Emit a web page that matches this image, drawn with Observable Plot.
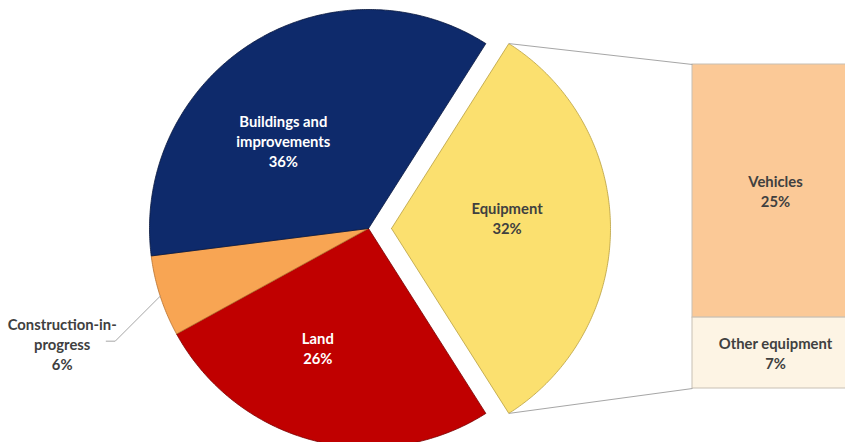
<!DOCTYPE html>
<html><head><meta charset="utf-8">
<script src="https://cdn.jsdelivr.net/npm/d3@7"></script>
<script src="https://cdn.jsdelivr.net/npm/@observablehq/plot@0.6"></script>
<style>html,body{margin:0;padding:0;background:#fff;overflow:hidden}</style>
</head><body><div id="chart"></div>
<script>
// ---- data ----
const categories = ["Equipment", "Land", "Construction-in-progress", "Buildings and improvements"];
const shares = [32, 26, 6, 36];
const labelText = ["Equipment\n32%", "Land\n26%", "Construction-in-\nprogress\n6%", "Buildings and\nimprovements\n36%"];
const barCategories = ["Vehicles", "Other equipment"];
const barShares = [25, 7];
const barLabelText = ["Vehicles\n25%", "Other equipment\n7%"];

// ---- styles ----
const sliceColors = {"Equipment": "#fbe06f", "Land": "#c00000", "Construction-in-progress": "#f8a553", "Buildings and improvements": "#0e2a6b"};
const sliceStroke = {"Equipment": "#b9a040", "Land": "#7a0000", "Construction-in-progress": "#b8702c", "Buildings and improvements": "#08173d"};
const labelColor = {"Equipment": "#404040", "Land": "#ffffff", "Construction-in-progress": "#404040", "Buildings and improvements": "#ffffff"};
const barColors = {"Vehicles": "#fbc997", "Other equipment": "#fdf4e4"};
const FONT = "Lato, 'Open Sans', sans-serif", FS = 14.8, LH = 1.35;

// ---- layout (pie radius = 1 unit) ----
const W = 845, H = 442, R = 219, CX = 368, CY = 228;
const explode = 23 / R;
const labelPlacement = {"Equipment": [0.53, -5.4], "Land": [0.59, 8.7], "Buildings and improvements": [0.56, -11.6]};
const barX1 = (692 - CX) / R, barX2 = (852 - CX) / R;
const barTop = (CY - 64) / R, barBottom = (CY - 388) / R;

const total = d3.sum(shares);
const equipHalf = Math.PI * shares[0] / total;
const start = Math.PI / 2 - equipHalf;
const arcs = d3.pie().sort(null).startAngle(start).endAngle(start + 2 * Math.PI)(shares);

const slices = arcs.map((a, i) => {
  const cat = categories[i];
  const mid = (a.startAngle + a.endAngle) / 2;
  const off = i === 0 ? explode : 0;
  const ox = off * Math.sin(mid), oy = off * Math.cos(mid);
  const pts = [{x: ox, y: oy}];
  const n = Math.max(8, Math.ceil((a.endAngle - a.startAngle) / 0.01));
  for (let k = 0; k <= n; k++) {
    const t = a.startAngle + (a.endAngle - a.startAngle) * k / n;
    pts.push({x: ox + Math.sin(t), y: oy + Math.cos(t)});
  }
  pts.push({x: ox, y: oy});
  return {cat, mid, ox, oy, a, pts};
});

const marks = [];
for (const s of slices) {
  marks.push(Plot.line(s.pts, {x: "x", y: "y", fill: sliceColors[s.cat], stroke: sliceStroke[s.cat], strokeWidth: 0.8, curve: "linear"}));
}

// bar of pie
const barTotal = d3.sum(barShares);
const unitPer = (barTop - barBottom) / barTotal;
let cum = 0;
const barRows = barCategories.map((c, i) => {
  const y1 = barTop - cum * unitPer;
  cum += barShares[i];
  const y2 = barTop - cum * unitPer;
  return {cat: c, y1, y2, label: barLabelText[i]};
});
marks.push(Plot.rect(barRows, {x1: barX1, x2: barX2, y1: "y1", y2: "y2", fill: d => barColors[d.cat], stroke: "#c8c0b4", strokeWidth: 1}));

// connector lines from the exploded wedge corners to the bar
const eq = slices[0];
const topCorner = {x: eq.ox + Math.sin(eq.a.startAngle), y: eq.oy + Math.cos(eq.a.startAngle)};
const botCorner = {x: eq.ox + Math.sin(eq.a.endAngle), y: eq.oy + Math.cos(eq.a.endAngle)};
marks.push(Plot.link([
  {x1: topCorner.x, y1: topCorner.y, x2: barX1, y2: barTop},
  {x1: botCorner.x, y1: botCorner.y, x2: barX1, y2: barBottom}
], {x1: "x1", y1: "y1", x2: "x2", y2: "y2", stroke: "#a6a6a6", strokeWidth: 1}));

// inside labels
const inside = slices.filter(s => labelPlacement[s.cat]).map(s => {
  const [k, nudge] = labelPlacement[s.cat];
  const ang = s.mid + nudge * Math.PI / 180;
  return {cat: s.cat, x: s.ox + k * Math.sin(ang), y: s.oy + k * Math.cos(ang), text: labelText[categories.indexOf(s.cat)]};
});
marks.push(Plot.text(inside, {x: "x", y: "y", text: "text", fill: d => labelColor[d.cat], fontSize: FS, fontWeight: "bold", lineHeight: LH, fontFamily: FONT}));

// outside label with leader line (construction-in-progress)
const cip = slices[2];
const edge = {x: Math.sin(cip.mid), y: Math.cos(cip.mid)};
const elbow = {x: edge.x - 45 / R, y: edge.y - 45 / R};
const endPt = {x: elbow.x - 9 / R, y: elbow.y};
marks.push(Plot.line([edge, elbow, endPt], {x: "x", y: "y", stroke: "#a6a6a6", strokeWidth: 1}));
marks.push(Plot.text([{x: endPt.x - 44 / R, y: endPt.y - 2 / R, text: labelText[2]}], {x: "x", y: "y", text: "text", fill: "#404040", fontSize: FS, fontWeight: "bold", lineHeight: LH, fontFamily: FONT}));

// bar labels
marks.push(Plot.text(barRows, {x: (barX1 + barX2) / 2 + 3 / R, y: d => (d.y1 + d.y2) / 2, text: "label", fill: "#404040", fontSize: FS, fontWeight: "bold", lineHeight: LH, fontFamily: FONT}));

const chart = Plot.plot({
  width: W, height: H,
  margin: 0,
  x: {domain: [-CX / R, (W - CX) / R], axis: null},
  y: {domain: [-(H - CY) / R, CY / R], axis: null},
  style: {background: "#fff", overflow: "hidden"},
  marks
});
document.getElementById("chart").appendChild(chart);
</script>
</body></html>
